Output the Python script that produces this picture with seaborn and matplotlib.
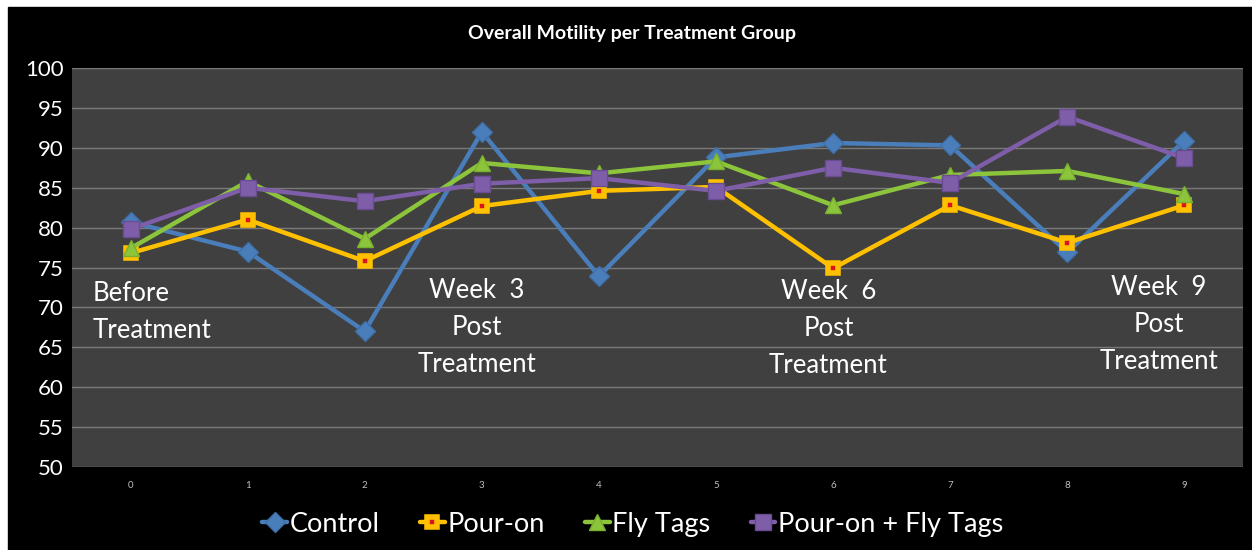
import numpy as np
import pandas as pd
import matplotlib
matplotlib.use("Agg")
import matplotlib.pyplot as plt
import seaborn as sns
from matplotlib.patches import Rectangle

# ===== 数据 =====
weeks = [0, 1, 2, 3, 4, 5, 6, 7, 8, 9]
control = [80.7, 77.0, 67.0, 92.0, 73.9, 88.8, 90.6, 90.3, 76.9, 90.9]
pour_on = [76.8, 81.0, 75.8, 82.7, 84.6, 85.1, 74.9, 82.8, 78.1, 82.8]
fly_tags = [77.4, 85.8, 78.6, 88.1, 86.8, 88.3, 82.8, 86.6, 87.1, 84.2]
pour_fly = [79.8, 85.0, 83.3, 85.5, 86.2, 84.6, 87.5, 85.6, 93.9, 88.7]

series_names = ["Control", "Pour-on", "Fly Tags", "Pour-on + Fly Tags"]
period_labels = ["Before\nTreatment", "Week  3\nPost\nTreatment",
                 "Week  6\nPost\nTreatment", "Week  9\nPost\nTreatment"]
period_x = [-0.32, 2.96, 5.96, 8.78]
period_y = [69.4, 67.5, 67.3, 67.8]

df = pd.DataFrame({"week": weeks, "Control": control, "Pour-on": pour_on,
                   "Fly Tags": fly_tags, "Pour-on + Fly Tags": pour_fly})

sns.set_style("dark")
plt.rcParams["font.family"] = ["Lato", "DejaVu Sans"]

styles = {
    "Control": dict(color="#4a7ebb", marker="D", markersize=10,
                    markerfacecolor="#4a7ebb", markeredgecolor="#3f6fa8", markeredgewidth=1),
    "Pour-on": dict(color="#ffc000", marker="s", markersize=7,
                    markerfacecolor="#d8141c", markeredgecolor="#ffc000", markeredgewidth=4),
    "Fly Tags": dict(color="#8cc43c", marker="^", markersize=12,
                     markerfacecolor="#8cc43c", markeredgecolor="#7ab030", markeredgewidth=1),
    "Pour-on + Fly Tags": dict(color="#7e5ea8", marker="s", markersize=11,
                               markerfacecolor="#7e5ea8", markeredgecolor="#6a4c92", markeredgewidth=1),
}

fig = plt.figure(figsize=(12.52, 5.5), dpi=100)
fig.patch.set_facecolor("white")
fig.patches.append(Rectangle((8 / 1252, 0), 1 - 8 / 1252, 543 / 550,
                             transform=fig.transFigure, color="black", zorder=-10))
ax = fig.add_axes([72 / 1252, 83 / 550, (1243 - 72) / 1252, (467 - 68) / 550])
ax.set_facecolor("#404040")

for name in series_names:
    sns.lineplot(data=df, x="week", y=name, ax=ax, linewidth=3.2,
                 label=name, **styles[name])

ax.set_xlim(-0.5, 9.5)
ax.set_ylim(50, 100)
ax.set_yticks(range(50, 101, 5))
ax.set_xticks(weeks)
ax.grid(axis="y", color="#7a7a7a", linewidth=1)
ax.grid(axis="x", visible=False)
for s in ax.spines.values():
    s.set_visible(False)
ax.set_xlabel("")
ax.set_ylabel("")
ax.tick_params(axis="y", colors="white", labelsize=16, length=0, pad=6)
ax.tick_params(axis="x", colors="#bfbfbf", labelsize=7, length=0, pad=10)

for lab, px, py in zip(period_labels, period_x, period_y):
    ha = "left" if px < 0 else "center"
    ax.text(px, py, lab, color="white", fontsize=18.5, ha=ha, va="center",
            multialignment=ha, linespacing=1.6)

fig.text(0.505, 0.94, "Overall Motility per Treatment Group", color="white",
         fontsize=14, fontweight="bold", ha="center", va="center")

leg = ax.legend(loc="center", bbox_to_anchor=(0.479, -0.143), ncol=4, frameon=False,
                fontsize=19.5, handlelength=0.9, handletextpad=0.1, columnspacing=1.5)
for t in leg.get_texts():
    t.set_color("white")

plt.savefig("out.png", dpi=100, facecolor=fig.get_facecolor())
plt.close()
print("Saved: out.png")
